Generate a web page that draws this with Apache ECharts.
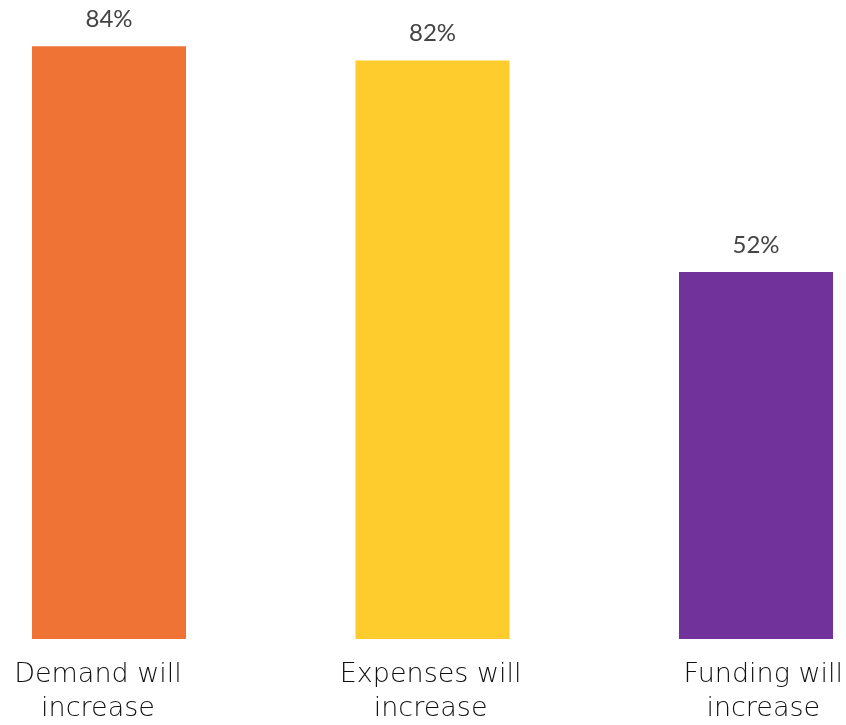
<!DOCTYPE html>
<html><head><meta charset="utf-8">
<script src="https://cdn.jsdelivr.net/npm/echarts@6/dist/echarts.min.js"></script>
<style>html,body{margin:0;padding:0;background:#fff}#c{width:846px;height:725px}</style>
</head><body><div id="c"></div>
<script>
const categories = ["Demand will\nincrease", "Expenses will\nincrease", "Funding will\nincrease"];
const values = [84, 82, 52];
const colors = ["#EF7335", "#FECC2C", "#71329C"];

const chart = echarts.init(document.getElementById('c'));
chart.setOption({
  animation: false,
  grid: [
    {left: 109, right: 90, top: 4, bottom: 86},
    {left: 98, right: 80, top: 639, height: 1}
  ],
  xAxis: [
    {type: 'category', gridIndex: 0, boundaryGap: false, data: categories, axisLine: {show: false}, axisTick: {show: false}, axisLabel: {show: false}},
    {type: 'category', gridIndex: 1, boundaryGap: false, data: categories, axisLine: {show: false}, axisTick: {show: false},
     axisLabel: {show: true, interval: 0, showMinLabel: true, showMaxLabel: true, margin: 19, fontFamily: 'DejaVu Sans', fontWeight: 200, fontSize: 27, lineHeight: 34, color: '#111'}}
  ],
  yAxis: [
    {type: 'value', gridIndex: 0, min: 0, max: 90, show: false},
    {type: 'value', gridIndex: 1, show: false}
  ],
  series: [{
    type: 'bar',
    xAxisIndex: 0, yAxisIndex: 0,
    barWidth: 154,
    data: values.map((v, i) => ({value: v, itemStyle: {color: colors[i]}})),
    label: {show: true, position: 'top', distance: 15, formatter: '{c}%', fontFamily: 'Lato', fontSize: 24, color: '#444'}
  }]
});
</script></body></html>
